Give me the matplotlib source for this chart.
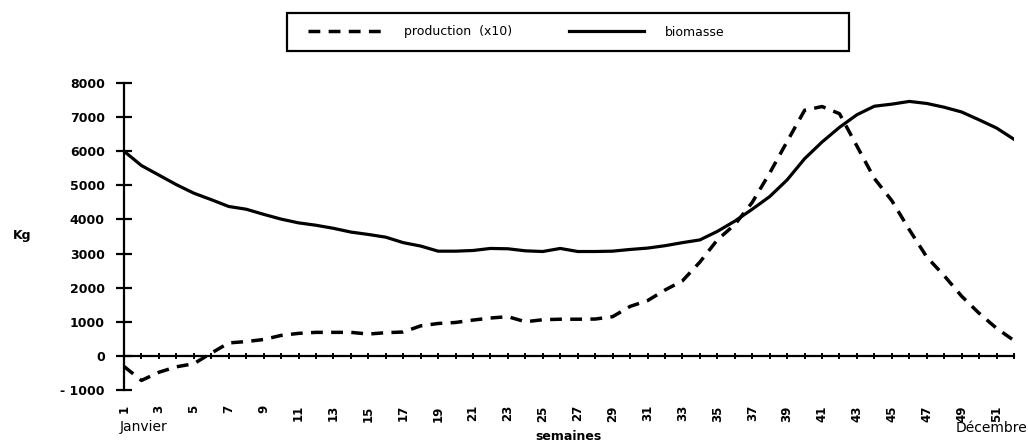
import matplotlib
matplotlib.use('Agg')
import matplotlib.pyplot as plt
from matplotlib.patches import Rectangle

# semaines 1..52
semaines = list(range(1, 53))

# biomasse (kg), trait plein
biomasse = [6000, 5580, 5300, 5020, 4770, 4580, 4380, 4300, 4150, 4010,
            3900, 3830, 3740, 3630, 3560, 3480, 3320, 3220, 3070, 3070,
            3090, 3150, 3140, 3080, 3060, 3150, 3060, 3060, 3070, 3120,
            3160, 3230, 3320, 3400, 3650, 3950, 4300, 4670, 5160, 5780,
            6270, 6700, 7070, 7320, 7380, 7460, 7400, 7290, 7150, 6920,
            6680, 6350]

# production (x10), tirets
production = [-310, -720, -480, -320, -230, 80, 380, 420, 480, 600,
              660, 690, 690, 690, 640, 680, 700, 880, 950, 980,
              1050, 1110, 1150, 1000, 1060, 1075, 1075, 1080, 1150, 1450,
              1620, 1930, 2200, 2750, 3400, 3850, 4500, 5360, 6285, 7200,
              7310, 7100, 6150, 5200, 4550, 3700, 2900, 2350, 1750, 1250,
              810, 450]

y_ticks = [-1000, 0, 1000, 2000, 3000, 4000, 5000, 6000, 7000, 8000]
y_labels = ['- 1000', '0', '1000', '2000', '3000', '4000', '5000', '6000', '7000', '8000']
x_labels = [str(s) if s % 2 == 1 else '' for s in semaines]

fig = plt.figure(figsize=(10.28, 4.41), dpi=100)
ax = fig.add_axes([124/1028, 1-390/441, 890/1028, 307/441])

l1, = ax.plot(semaines, production, color='black', lw=2.5, linestyle=(0, (3.4, 2.4)))
l2, = ax.plot(semaines, biomasse, color='black', lw=2.3, solid_joinstyle='round')

ax.set_xlim(1, 52)
ax.set_ylim(-1000, 8000)

ax.spines['top'].set_visible(False)
ax.spines['right'].set_visible(False)
ax.spines['bottom'].set_position(('data', 0))
ax.spines['left'].set_linewidth(1.6)
ax.spines['bottom'].set_linewidth(1.6)

ax.set_yticks(y_ticks)
ax.set_yticklabels(y_labels, fontsize=9, fontweight='bold')
ax.tick_params(axis='y', direction='inout', length=11.5, width=1.6, pad=8)

ax.set_xticks(semaines)
ax.set_xticklabels(x_labels, rotation=90, fontsize=8.5, fontweight='bold')
ax.tick_params(axis='x', direction='inout', length=5, width=1.4, pad=33)

fig.text(22/1028, 1-236/441, 'Kg', ha='center', va='center', fontsize=9, fontweight='bold')
fig.text(120/1028, 1-427/441, 'Janvier', ha='left', va='center', fontsize=10)
fig.text(1027/1028, 1-428/441, 'Décembre', ha='right', va='center', fontsize=10)
fig.text(568/1028, 1-436/441, 'semaines', ha='center', va='center', fontsize=9, fontweight='bold')

# cadre de la legende
fig.patches.append(Rectangle((287/1028, 1-51/441), 562/1028, 38/441, transform=fig.transFigure,
                             fill=False, edgecolor='black', lw=1.6))
fig.legend([l1, l2], ['production  (x10)', 'biomasse'], loc='center left',
           bbox_to_anchor=(302/1028, 1-32/441), ncol=2, frameon=False, borderpad=0,
           handlelength=6, handletextpad=1.7, columnspacing=4.5,
           prop={'size': 9, 'weight': 'medium'})

fig.savefig('out.png', dpi=100)
